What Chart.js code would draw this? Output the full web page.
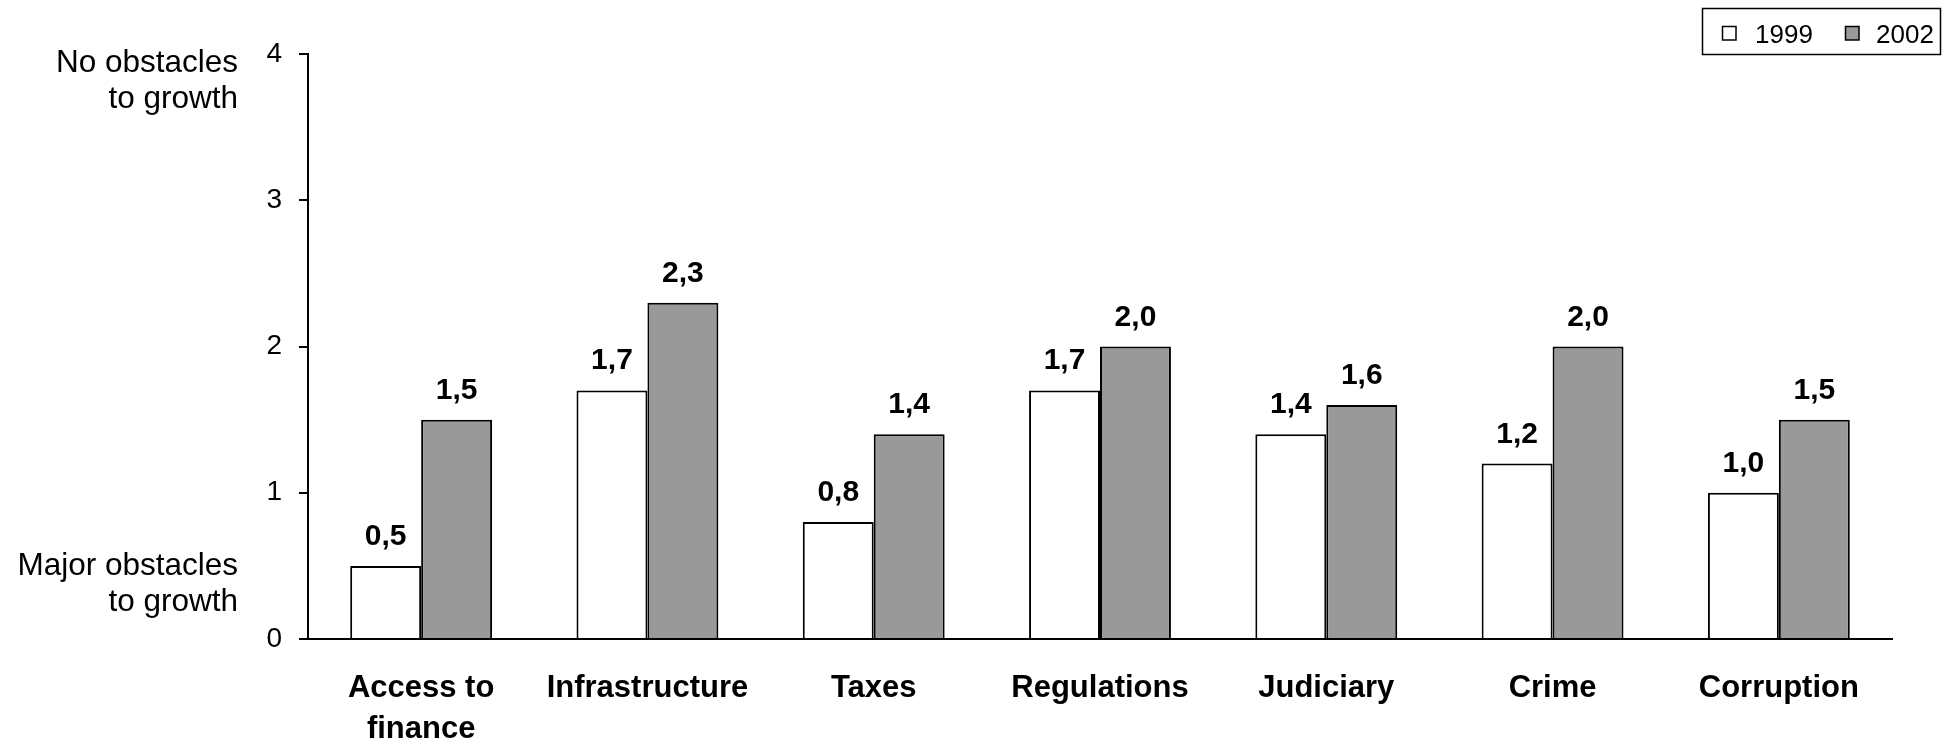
<!DOCTYPE html>
<html>
<head>
<meta charset="utf-8">
<title>Obstacles to growth, 1999 vs 2002</title>
<script src="https://cdn.jsdelivr.net/npm/chart.js@4.4.1/dist/chart.umd.min.js"></script>
<style>
  html, body { margin: 0; padding: 0; background: #ffffff; }
  #wrap { width: 1948px; height: 744px; }
</style>
</head>
<body>
<div id="wrap"><canvas id="chart" width="1948" height="744"></canvas></div>
<script>
// Obstacle categories (two-line labels where the text wraps)
const categories = [
  ['Access to', 'finance'],
  'Infrastructure',
  'Taxes',
  'Regulations',
  'Judiciary',
  'Crime',
  'Corruption'
];

// Average ratings per survey year (0 = major obstacle, 4 = no obstacle)
const values1999 = [0.5, 1.7, 0.8, 1.7, 1.4, 1.2, 1.0];
const values2002 = [1.5, 2.3, 1.4, 2.0, 1.6, 2.0, 1.5];

const seriesLabels = ['1999', '2002'];
const yTicks = [0, 1, 2, 3, 4];

// Text placed beside the value axis
const topAxisNote = ['No obstacles', 'to growth'];
const bottomAxisNote = ['Major obstacles', 'to growth'];

const FONT = '"Liberation Sans", Arial, Helvetica, sans-serif';

function fmt(v) {
  return v.toFixed(1).replace('.', ',');
}

const annotations = {
  id: 'annotations',
  afterDatasetsDraw(chart) {
    const ctx = chart.ctx;
    ctx.save();
    // value labels above each bar
    ctx.fillStyle = '#000000';
    ctx.font = 'bold 30px ' + FONT;
    ctx.textAlign = 'center';
    ctx.textBaseline = 'alphabetic';
    chart.data.datasets.forEach((ds, di) => {
      const meta = chart.getDatasetMeta(di);
      meta.data.forEach((bar, i) => {
        ctx.fillText(fmt(ds.data[i]), bar.x, bar.y - 21);
      });
    });

    // notes beside the value axis
    const y = chart.scales.y;
    ctx.font = '31.5px ' + FONT;
    ctx.textAlign = 'right';
    const noteX = 238;
    const topBase = y.getPixelForValue(4) + 18;
    topAxisNote.forEach((t, k) => ctx.fillText(t, noteX, topBase + k * 35.5));
    const botBase = y.getPixelForValue(0) - 64;
    bottomAxisNote.forEach((t, k) => ctx.fillText(t, noteX, botBase + k * 35.5));

    // legend box
    const lx = 1702, ly = 8, lw = 238, lh = 46;
    ctx.lineWidth = 1.5;
    ctx.strokeStyle = '#000000';
    ctx.fillStyle = '#ffffff';
    ctx.fillRect(lx, ly, lw, lh);
    ctx.strokeRect(lx + 0.5, ly + 0.5, lw, lh);
    const items = [
      { mx: 1722, tx: 1755 },
      { mx: 1845, tx: 1876 }
    ];
    ctx.font = '26px ' + FONT;
    ctx.textAlign = 'left';
    chart.data.datasets.forEach((ds, di) => {
      const it = items[di];
      ctx.fillStyle = ds.backgroundColor;
      ctx.fillRect(it.mx, 26, 14, 14);
      ctx.strokeStyle = '#000000';
      ctx.lineWidth = 1.5;
      ctx.strokeRect(it.mx + 0.5, 26.5, 13.5, 13.5);
      ctx.fillStyle = '#000000';
      ctx.fillText(ds.label, it.tx, 43);
    });
    ctx.restore();
  }
};

new Chart(document.getElementById('chart'), {
  type: 'bar',
  data: {
    labels: categories,
    datasets: [
      {
        label: seriesLabels[0],
        data: values1999,
        backgroundColor: '#ffffff',
        borderColor: '#000000',
        borderWidth: 2,
        categoryPercentage: 0.627,
        barPercentage: 1.0
      },
      {
        label: seriesLabels[1],
        data: values2002,
        backgroundColor: '#999999',
        borderColor: '#000000',
        borderWidth: 2,
        categoryPercentage: 0.627,
        barPercentage: 1.0
      }
    ]
  },
  options: {
    responsive: false,
    animation: false,
    devicePixelRatio: 1,
    layout: { padding: { left: 0, right: 56, top: 54, bottom: 0 } },
    plugins: {
      legend: { display: false },
      tooltip: { enabled: false }
    },
    scales: {
      x: {
        grid: { display: false, drawTicks: false },
        border: { display: true, color: '#000000', width: 2 },
        ticks: {
          color: '#000000',
          font: { family: FONT, size: 31, weight: 'bold', lineHeight: '41px' },
          padding: 29,
          maxRotation: 0,
          autoSkip: false
        },
        afterFit(scale) { scale.height = 105; }
      },
      y: {
        min: 0,
        max: 4,
        afterBuildTicks(scale) { scale.ticks = yTicks.map(v => ({ value: v })); },
        grid: {
          display: true,
          drawOnChartArea: false,
          drawTicks: true,
          tickLength: 9,
          color: '#000000',
          lineWidth: 2
        },
        border: { display: true, color: '#000000', width: 2 },
        ticks: {
          color: '#000000',
          font: { family: FONT, size: 28 },
          padding: 17
        },
        afterFit(scale) { scale.width = 308; }
      }
    }
  },
  plugins: [annotations]
});
</script>
</body>
</html>
